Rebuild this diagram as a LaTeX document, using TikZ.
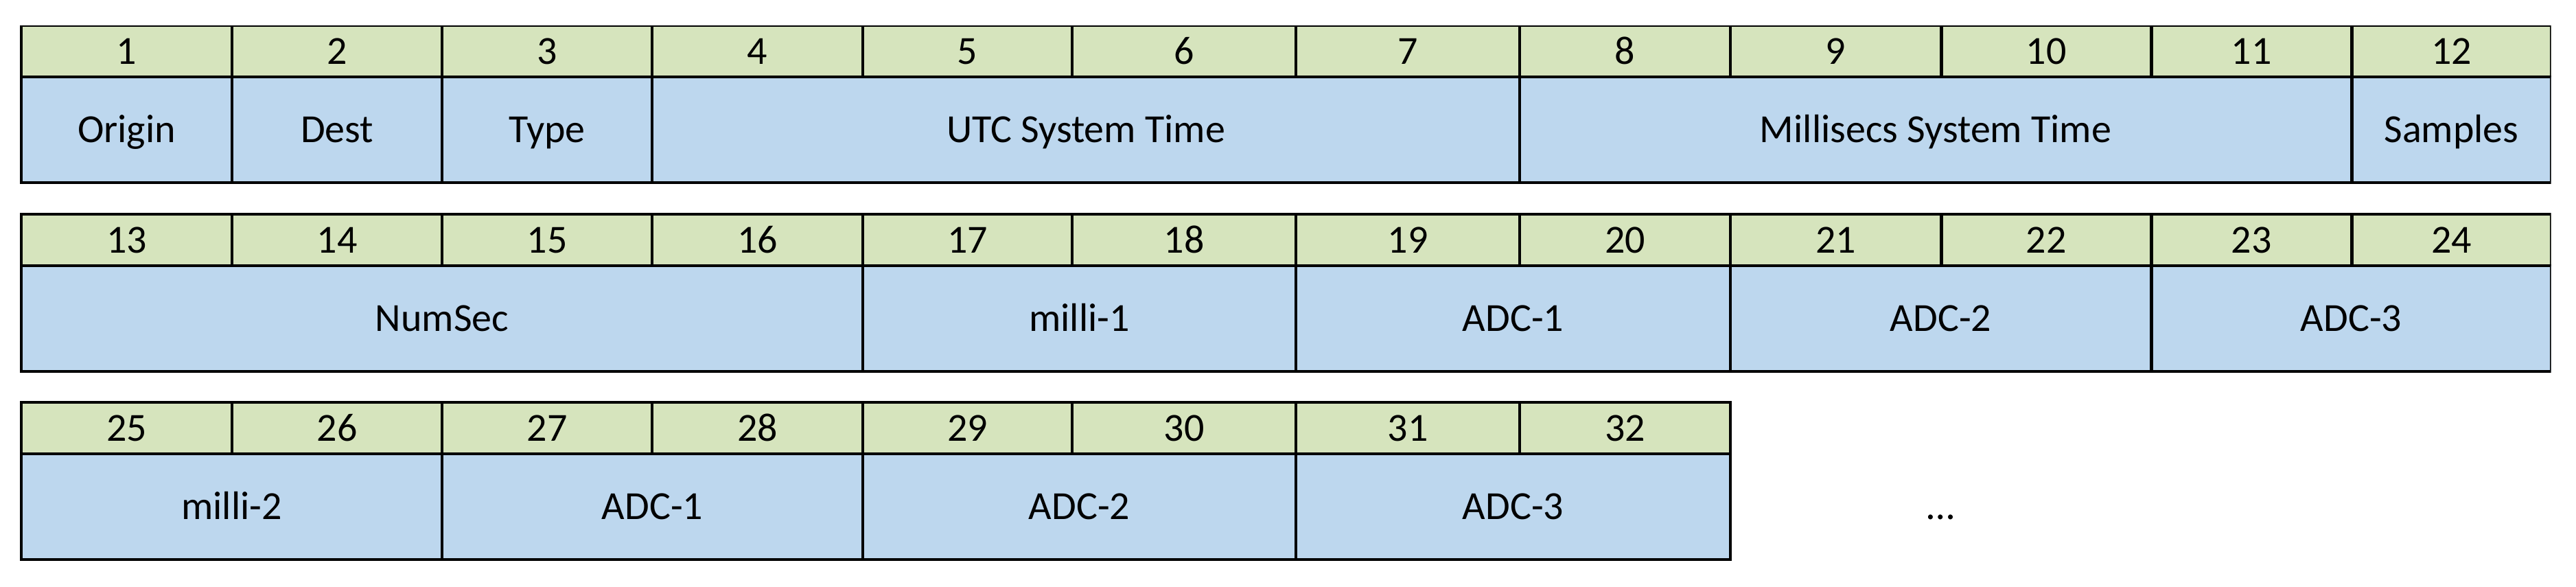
\documentclass[tikz,border=0pt]{standalone}
\usepackage{fontspec}
\setmainfont{Carlito}
\definecolor{numgreen}{HTML}{D6E4BD}
\definecolor{fieldblue}{HTML}{BDD7EE}
\begin{document}
\begin{tikzpicture}[
  cell/.style={draw, line width=1.4pt, inner sep=0pt, outer sep=0pt, anchor=north west,
    font=\fontsize{16.5}{20}\selectfont, text height=10.6pt, text depth=0pt},
  numcell/.style={cell, fill=numgreen, minimum width=#1cm, minimum height=0.75cm},
  fieldcell/.style={cell, fill=fieldblue, minimum width=#1cm, minimum height=1.54cm}]
\useasboundingbox (0,0) rectangle (37.53,-8.55);
\clip (0,-0.375) rectangle (37.165,-8.55);

% first line
\node[numcell=3.07] (n1) at (0.31,-0.37) {1};
\node[numcell=3.06] (n2) at (n1.north east) {2};
\node[numcell=3.06] (n3) at (n2.north east) {3};
\node[numcell=3.07] (n4) at (n3.north east) {4};
\node[numcell=3.05] (n5) at (n4.north east) {5};
\node[numcell=3.26] (n6) at (n5.north east) {6};
\node[numcell=3.26] (n7) at (n6.north east) {7};
\node[numcell=3.07] (n8) at (n7.north east) {8};
\node[numcell=3.07] (n9) at (n8.north east) {9};
\node[numcell=3.06] (n10) at (n9.north east) {10};
\node[numcell=2.92] (n11) at (n10.north east) {11};
\node[numcell=2.91] (n12) at (n11.north east) {12};
\node[fieldcell=3.07] (orig) at (n1.south west) {Origin};
\node[fieldcell=3.06] (dest) at (n2.south west) {Dest};
\node[fieldcell=3.06] (type) at (n3.south west) {Type};
\node[fieldcell=12.64] (utc) at (n4.south west) {UTC System Time};
\node[fieldcell=12.12] (msec) at (n8.south west) {Millisecs System Time};
\node[fieldcell=2.91] (samp) at (n12.south west) {Samples};

% second line
\node[numcell=3.07] (n13) at (0.31,-3.12) {13};
\node[numcell=3.06] (n14) at (n13.north east) {14};
\node[numcell=3.06] (n15) at (n14.north east) {15};
\node[numcell=3.07] (n16) at (n15.north east) {16};
\node[numcell=3.05] (n17) at (n16.north east) {17};
\node[numcell=3.26] (n18) at (n17.north east) {18};
\node[numcell=3.26] (n19) at (n18.north east) {19};
\node[numcell=3.07] (n20) at (n19.north east) {20};
\node[numcell=3.07] (n21) at (n20.north east) {21};
\node[numcell=3.06] (n22) at (n21.north east) {22};
\node[numcell=2.92] (n23) at (n22.north east) {23};
\node[numcell=2.91] (n24) at (n23.north east) {24};
\node[fieldcell=12.26] (nsec) at (n13.south west) {NumSec};
\node[fieldcell=6.31] (mil1) at (n17.south west) {milli-1};
\node[fieldcell=6.33] (adc1) at (n19.south west) {ADC-1};
\node[fieldcell=6.13] (adc2) at (n21.south west) {ADC-2};
\node[fieldcell=5.83] (adc3) at (n23.south west) {ADC-3};

% third line
\node[numcell=3.07] (n25) at (0.31,-5.86) {25};
\node[numcell=3.06] (n26) at (n25.north east) {26};
\node[numcell=3.06] (n27) at (n26.north east) {27};
\node[numcell=3.07] (n28) at (n27.north east) {28};
\node[numcell=3.05] (n29) at (n28.north east) {29};
\node[numcell=3.26] (n30) at (n29.north east) {30};
\node[numcell=3.26] (n31) at (n30.north east) {31};
\node[numcell=3.07] (n32) at (n31.north east) {32};
\node[fieldcell=6.13] (mil2) at (n25.south west) {milli-2};
\node[fieldcell=6.13] (adcb1) at (n27.south west) {ADC-1};
\node[fieldcell=6.31] (adcb2) at (n29.south west) {ADC-2};
\node[fieldcell=6.33] (adcb3) at (n31.south west) {ADC-3};
\node[fieldcell=6.13, draw=none, fill=none] (more) at (adcb3.north east) {…};
\end{tikzpicture}
\end{document}
